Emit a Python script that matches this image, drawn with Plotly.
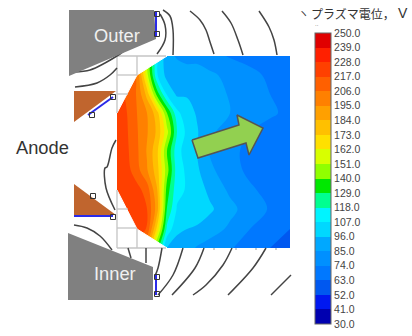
import plotly.graph_objects as go

# Plasma potential field (V)
grid_x = [117, 127, 137, 147, 157, 167, 177, 187, 197, 210, 230, 250, 270, 290]
grid_y = [56, 75, 94, 113, 132, 151, 170, 190, 209, 229, 248]
potential = [
    [215, 205, 190, 150, 110, 88, 84, 82, 80, 78, 73, 70, 68, 66],
    [218, 212, 205, 155, 108, 92, 90, 89, 92, 87, 82, 77, 72, 68],
    [222, 215, 205, 180, 135, 105, 94, 95, 93, 90, 84, 78, 74, 70],
    [226, 217, 206, 195, 178, 140, 110, 100, 95, 92, 85, 80, 76, 71],
    [226, 218, 207, 196, 182, 155, 118, 104, 97, 87, 80, 74, 69, 66],
    [226, 219, 208, 194, 176, 140, 110, 103, 96, 84, 77, 71, 68, 65],
    [226, 221, 210, 196, 178, 145, 112, 105, 98, 87, 79, 71, 67, 65],
    [226, 224, 221, 212, 185, 135, 110, 106, 102, 93, 83, 76, 70, 66],
    [226, 225, 224, 217, 190, 128, 106, 104, 104, 98, 88, 80, 73, 66],
    [226, 225, 224, 216, 170, 115, 98, 96, 94, 90, 83, 74, 67, 63],
    [226, 220, 210, 190, 135, 95, 92, 89, 84, 80, 75, 69, 63, 58],
]

# Colour levels
level_start = 30
level_end = 250
level_step = 11
tick_values = [30, 41, 52, 63, 74, 85, 96, 107, 118, 129, 140, 151, 162, 173, 184, 195, 206, 217, 228, 239, 250]
band_colors = [
    "#0000b0", "#0018f0", "#0058f0", "#0078ff", "#0090ff", "#00a8ff", "#00d8ff",
    "#00f4ff", "#00ff90", "#00e800", "#90ff00", "#d8ff00", "#ffe000", "#ffc000",
    "#ffa000", "#ff8000", "#ff6000", "#ff4000", "#ff2000", "#e00000",
]

# Mask and mesh
mask_upper = ([117, 167, 137, 117, 117], [56, 56, 75, 113, 56])
mask_lower = ([117, 137, 167, 117, 117], [190, 229, 248, 248, 190])
mesh_vertical_x = [117, 137, 157]
mesh_upper_y = (56, 113)
mesh_lower_y = (190, 248)
mesh_horizontal_upper = [(117, 166, 56), (117, 137, 75), (117, 128, 94)]
mesh_horizontal_lower = [(117, 128, 209), (117, 137, 228), (117, 166, 248)]
mesh_ticks_x = [214, 236, 256, 276]
mesh_ticks_y = (248, 250)

# Thruster parts
outer_pole = ([69, 154, 156, 69], [10, 10, 39, 76])
inner_pole = ([68, 153, 153, 68], [233, 267, 300, 300])
anode_upper = ([74, 116, 74], [91, 91, 122])
anode_lower = ([74, 116, 74], [184, 215, 215])
walls = [
    ([113, 88], [97, 115]),
    ([74, 113], [216, 216]),
    ([156, 156], [12, 36]),
    ([156, 156], [275, 295]),
]
wall_markers_x = [113, 92, 113, 93, 157, 157, 157, 157]
wall_markers_y = [97, 115, 217, 196, 14, 34, 277, 294]

# Magnetic field lines
field_lines = [
    ([160, 165, 165, 157], [14, 25, 40, 54]),
    ([163, 170, 173, 173], [10, 16, 30, 55]),
    ([190, 200, 206, 210, 214], [11, 20, 30, 42, 54]),
    ([222, 231, 238, 243], [11, 23, 40, 55]),
    ([259, 269, 274, 277], [11, 27, 40, 55]),
    ([74, 90, 105, 120, 130, 144], [72, 70, 63, 54, 47, 42]),
    ([75, 97, 110, 117], [87, 83, 75, 68]),
    ([116, 112, 107, 105, 106, 115], [140, 148, 167, 168, 188, 210]),
    ([74, 87, 100, 112], [225, 228, 236, 250]),
    ([128, 131], [248, 258]),
    ([146, 146], [248, 263]),
    ([162, 158, 155], [248, 268, 276]),
    ([183, 173, 158], [248, 275, 295]),
    ([204, 195, 172], [248, 268, 295]),
    ([232, 223, 206, 193], [248, 265, 285, 295]),
    ([266, 253, 228], [248, 268, 295]),
    ([291, 271], [275, 295]),
]

# Flow arrow
arrow_x = [192, 239, 237, 263, 249, 246, 198, 192]
arrow_y = [140, 125, 115, 128, 155, 143, 158, 140]

# Text
title_mark = "ヽ"
title_text = "プラズマ電位，"
title_unit = "V"
title_dots = ".."
label_anode = "Anode"
label_outer = "Outer"
label_inner = "Inner"

n = len(band_colors)
colorscale = []
for i, c in enumerate(band_colors):
    colorscale.append([i / n, c])
    colorscale.append([(i + 1) / n, c])

fig = go.Figure()
fig.add_trace(go.Contour(
    x=grid_x, y=grid_y, z=potential,
    zmin=level_start, zmax=level_end, colorscale=colorscale,
    autocontour=False,
    contours=dict(start=level_start, end=level_end, size=level_step, coloring="fill", showlines=False),
    line=dict(width=0),
    colorbar=dict(
        x=315 / 412, xanchor="left", xpad=0,
        y=(336 - 33) / 336, yanchor="top", ypad=0,
        lenmode="pixels", len=291, thicknessmode="pixels", thickness=16,
        outlinecolor="#666666", outlinewidth=1,
        tickmode="array", tickvals=tick_values, tickformat=".1f",
        ticks="outside", ticklen=1, tickcolor="rgba(0,0,0,0)",
        tickfont=dict(family="Liberation Sans", size=10.5, color="#444444"),
    ),
    hoverinfo="skip",
))


def poly(xy, fill, line=None, width=0):
    fig.add_trace(go.Scatter(
        x=list(xy[0]), y=list(xy[1]), mode="lines", fill="toself", fillcolor=fill,
        line=dict(color=line or fill, width=width), hoverinfo="skip", showlegend=False,
    ))


def path(x, y, color, width, shape="linear"):
    fig.add_trace(go.Scatter(
        x=list(x), y=list(y), mode="lines", line=dict(color=color, width=width, shape=shape),
        hoverinfo="skip", showlegend=False,
    ))


poly(mask_upper, "#ffffff", "#ffffff", 1)
poly(mask_lower, "#ffffff", "#ffffff", 1)
mesh = "#c4c4c4"
for vx in mesh_vertical_x:
    path([vx, vx], [mesh_upper_y[0], 113 if vx == 117 else (75 if vx == 137 else 56)], mesh, 1.3)
    path([vx, vx], [mesh_lower_y[1], 190 if vx == 117 else (229 if vx == 137 else 248)], mesh, 1.3)
for x0, x1, yy in mesh_horizontal_upper + mesh_horizontal_lower:
    path([x0, x1], [yy, yy], mesh, 1.3)
for tx in mesh_ticks_x:
    path([tx, tx], mesh_ticks_y, "#999999", 1)

for xs, ys in field_lines:
    path(xs, ys, "#444444", 1.5, "spline")

poly(outer_pole, "#808080")
poly(inner_pole, "#808080")
poly(anode_upper, "#c0652e")
poly(anode_lower, "#c0652e")
for xs, ys in walls:
    path(xs, ys, "#2a2ae8", 2)
fig.add_trace(go.Scatter(
    x=wall_markers_x, y=wall_markers_y, mode="markers",
    marker=dict(symbol="square-open", size=5, color="#333333", line=dict(width=1)),
    hoverinfo="skip", showlegend=False,
))
poly((arrow_x, arrow_y), "#92d050", "#555555", 1.5)


def note(text, x, y, size, color, family="Liberation Sans"):
    fig.add_annotation(x=x, y=y, xref="x", yref="y", text=text, showarrow=False,
                       font=dict(family=family, size=size, color=color))


note(label_outer, 117, 35, 18.3, "#f0f0f0")
note(label_inner, 115, 273, 18.3, "#f0f0f0")
note(label_anode, 42, 147, 18.3, "#333333")
cjk = "Noto Sans CJK JP"
note(title_mark, 303, 13, 11, "#333333", cjk)
note(title_text, 353, 13, 12, "#333333", cjk)
note(title_unit, 403, 13, 14, "#333333")
note(title_dots, 317, 24, 6, "#555555")

fig.update_xaxes(range=[0, 412], visible=False, domain=[0, 1], fixedrange=True)
fig.update_yaxes(range=[336, 0], visible=False, domain=[0, 1], fixedrange=True)
fig.update_layout(
    width=412, height=336, margin=dict(l=0, r=0, t=0, b=0, autoexpand=False),
    paper_bgcolor="white", plot_bgcolor="white", showlegend=False,
)
fig.write_html(
    "out.html", config=dict(displayModeBar=False),
    post_script="document.body.style.margin='0';document.documentElement.style.overflow='hidden';",
)
